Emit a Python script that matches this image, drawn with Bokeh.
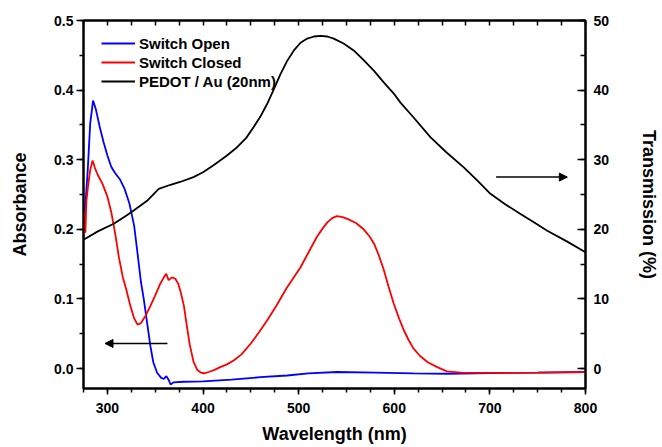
from bokeh.plotting import figure
from bokeh.models import (Range1d, LinearAxis, SingleIntervalTicker, FixedTicker,
                          PrintfTickFormatter, Arrow, NormalHead, Legend)
from bokeh.embed import file_html
from bokeh.resources import INLINE

# ---------------- data ----------------
open_wl = [275, 276, 277, 279.4, 282, 285, 288, 292, 296, 300, 304, 308, 313, 318, 323, 328,
           332, 335, 338, 341.5, 345, 348, 352, 356, 359, 361.7, 364, 366, 369, 380, 400,
           430, 460, 488, 510, 540, 580, 620, 655, 700, 750, 800]
open_abs = [0.215, 0.222, 0.237, 0.284, 0.352, 0.385, 0.372, 0.347, 0.325, 0.306, 0.290,
            0.281, 0.272, 0.258, 0.237, 0.205, 0.160, 0.125, 0.100, 0.066, 0.032, 0.009,
            -0.006, -0.013, -0.015, -0.011, -0.016, -0.023, -0.020, -0.019, -0.0185,
            -0.016, -0.0125, -0.010, -0.007, -0.005, -0.006, -0.007, -0.0075, -0.0065,
            -0.006, -0.005]

closed_wl = [275, 276, 277, 278, 280, 282, 284.5, 287, 290, 295, 300, 304, 308, 312, 316,
             320, 324, 328, 331.5, 335, 340, 345, 350, 355, 359, 361.5, 364, 367.5, 371,
             374, 377, 380, 383, 386, 390, 394, 398, 401, 406, 412, 418, 425, 432, 440,
             450, 458, 467, 477, 487, 495, 502, 510, 519, 525, 530, 535, 540, 545, 551,
             560, 568, 574, 579, 584, 589, 594, 599.5, 605, 610, 615, 620, 627, 635, 645,
             655, 670, 707, 750, 800]
closed_abs = [0.185, 0.225, 0.195, 0.240, 0.265, 0.285, 0.299, 0.288, 0.278, 0.265, 0.247,
              0.225, 0.195, 0.160, 0.132, 0.112, 0.090, 0.072, 0.063, 0.065, 0.076, 0.090,
              0.105, 0.121, 0.131, 0.136, 0.127, 0.131, 0.129, 0.122, 0.108, 0.090, 0.062,
              0.035, 0.010, -0.002, -0.006, -0.0068, -0.005, -0.002, 0.002, 0.006, 0.0115,
              0.020, 0.036, 0.051, 0.069, 0.091, 0.1145, 0.131, 0.1455, 0.166, 0.189,
              0.201, 0.210, 0.216, 0.219, 0.218, 0.215, 0.209, 0.200, 0.190, 0.179, 0.162,
              0.142, 0.118, 0.093, 0.072, 0.055, 0.041, 0.029, 0.018, 0.009, 0.002,
              -0.004, -0.006, -0.0062, -0.006, -0.0053]

pedot_wl = [275, 290, 306.6, 320, 327.5, 341.5, 353.7, 366, 376, 390, 400, 411, 424, 435.7,
            445, 453, 460, 467, 474, 481, 488, 495, 502, 509, 516, 523, 530, 536.7, 547,
            557.6, 568, 578.6, 589, 599.5, 606.5, 620, 638, 655, 672.7, 687, 700.6, 716,
            732, 746, 760, 780, 800]
pedot_T = [18.5, 19.7, 20.8, 22.0, 22.7, 24.1, 25.8, 26.4, 26.8, 27.5, 28.2, 29.2, 30.5, 31.8,
           33.1, 34.7, 36.2, 38.0, 40.1, 42.3, 44.2, 45.7, 46.8, 47.4, 47.7, 47.8, 47.7,
           47.4, 46.7, 45.7, 44.3, 42.8, 41.1, 39.5, 38.2, 36.1, 33.2, 31.0, 28.9, 27.0,
           25.1, 23.6, 22.2, 21.0, 19.8, 18.3, 16.7]

labels = ["Switch Open", "Switch Closed", "PEDOT / Au (20nm)"]
colors = ["#0000FF", "#FF0000", "#000000"]

# top frame tick positions (unlabelled)
top_ticks = list(range(275, 801, 25))

# arrow annotations (axis-pointing arrows)
left_arrow = dict(x_start=362.8, x_end=297.5, y=0.036)
right_arrow = dict(x_start=706.5, x_end=781.0, y=27.5)

FONT = "Liberation Sans"

p = figure(width=662, height=447, output_backend="svg", toolbar_location=None,
           x_range=Range1d(275, 800), y_range=Range1d(-0.0287, 0.5),
           min_border_left=83, min_border_right=77, min_border_top=20, min_border_bottom=59)
p.extra_y_ranges = {"T": Range1d(-2.87, 50)}
p.grid.visible = False
p.outline_line_color = "black"
p.outline_line_width = 2
p.background_fill_color = "white"
p.border_fill_color = "white"

r1 = p.line(open_wl, open_abs, line_color=colors[0], line_width=1.8)
r2 = p.line(closed_wl, closed_abs, line_color=colors[1], line_width=1.8)
r3 = p.line(pedot_wl, pedot_T, line_color=colors[2], line_width=1.8, y_range_name="T")

def style_axis(ax):
    ax.axis_line_width = 2
    ax.major_tick_line_width = 1.5
    ax.minor_tick_line_width = 1.5
    ax.major_label_text_font = FONT
    ax.major_label_text_font_style = "bold"
    ax.major_label_text_font_size = "14px"
    ax.major_label_text_color = "black"
    ax.axis_label_text_font = FONT
    ax.axis_label_text_font_style = "bold"
    ax.axis_label_text_font_size = "18px"
    ax.axis_label_text_color = "black"

# bottom
xa = p.xaxis[0]
xa.ticker = SingleIntervalTicker(interval=100, num_minor_ticks=4)
style_axis(xa)
xa.axis_label = "Wavelength (nm)"
xa.major_tick_out = 6
xa.major_tick_in = 0
xa.minor_tick_out = 4
xa.minor_tick_in = 0
xa.major_label_standoff = 8
xa.axis_label_standoff = 8

# left
ya = p.yaxis[0]
ya.ticker = SingleIntervalTicker(interval=0.1, num_minor_ticks=2)
ya.formatter = PrintfTickFormatter(format="%.1f")
style_axis(ya)
ya.axis_label = "Absorbance"
ya.major_tick_out = 7
ya.major_tick_in = 0
ya.minor_tick_out = 4
ya.minor_tick_in = 0
ya.major_label_standoff = 3
ya.axis_label_standoff = 21

# right
ra = LinearAxis(y_range_name="T", ticker=SingleIntervalTicker(interval=10, num_minor_ticks=2),
                axis_label="Transmission (%)")
style_axis(ra)
ra.major_tick_in = 8
ra.major_tick_out = 0
ra.minor_tick_in = 5
ra.minor_tick_out = 0
ra.major_label_standoff = 8
ra.axis_label_standoff = 27
p.add_layout(ra, "right")

# top (ticks only, no labels)
ta = LinearAxis(ticker=FixedTicker(ticks=[], minor_ticks=top_ticks))
style_axis(ta)
ta.major_tick_in = 0
ta.major_tick_out = 0
ta.minor_tick_in = 5
ta.minor_tick_out = 0
ta.major_label_standoff = 0
p.add_layout(ta, "above")

# arrows
p.add_layout(Arrow(end=NormalHead(size=8, fill_color="black", line_color="black", line_width=1),
                   x_start=left_arrow["x_start"], y_start=left_arrow["y"],
                   x_end=left_arrow["x_end"], y_end=left_arrow["y"],
                   line_color="black", line_width=1.5))
p.add_layout(Arrow(end=NormalHead(size=8, fill_color="black", line_color="black", line_width=1),
                   x_start=right_arrow["x_start"], y_start=right_arrow["y"],
                   x_end=right_arrow["x_end"], y_end=right_arrow["y"],
                   line_color="black", line_width=1.5, y_range_name="T"))

legend = Legend(items=[(labels[0], [r1]), (labels[1], [r2]), (labels[2], [r3])],
                location=(18, 298), border_line_alpha=0, background_fill_alpha=0,
                padding=0, margin=0, spacing=1, glyph_width=34, glyph_height=18,
                label_height=18, label_standoff=4,
                label_text_font=FONT, label_text_font_style="bold",
                label_text_font_size="15px", label_text_color="black")
p.add_layout(legend, "center")

open("out.html", "w").write(file_html(p, INLINE))
